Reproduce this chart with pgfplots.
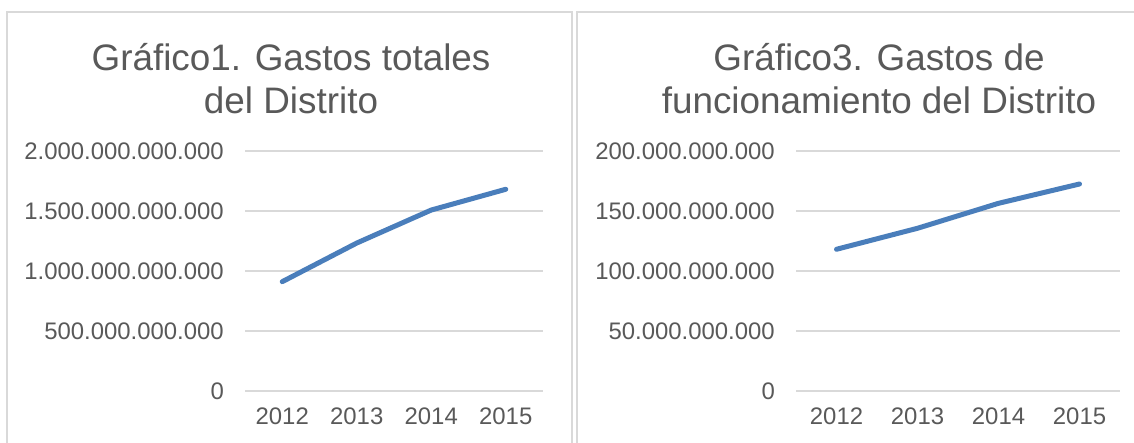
\documentclass[border=0pt]{standalone}
\usepackage{pgfplots}
\pgfplotsset{compat=1.18}
\usepackage{fontspec}
\setmainfont{Liberation Sans}
\definecolor{txt}{HTML}{595959}
\definecolor{grd}{HTML}{D9D9D9}
\definecolor{frm}{HTML}{D9D9D9}
\definecolor{ser}{HTML}{4A7EBB}
\pgfplotsset{
  mystyle/.style={
    scale only axis,
    anchor=south west,
    xmin=-0.5, xmax=3.5,
    ymin=0,
    height=240bp,
    xtick={0,1,2,3},
    xticklabels={2012,2013,2014,2015},
    scaled y ticks=false,
    axis line style={draw=none},
    major tick length=0pt,
    tick style={draw=none},
    ymajorgrids,
    grid style={color=grd, line width=1.6bp},
    xticklabel style={font=\fontsize{24}{29}\selectfont, color=txt, anchor=north, inner sep=0pt, yshift=-17bp},
    yticklabel style={font=\fontsize{24}{29}\selectfont, color=txt, anchor=east, inner sep=0pt, xshift=-21bp},
    clip=false,
  }
}
\begin{document}
\begin{tikzpicture}
\path[use as bounding box] (0bp,0bp) rectangle (1134bp,443bp);
\begin{scope}
\clip (0bp,0bp) rectangle (1134bp,443bp);
\draw[frm, line width=1.6bp] (7bp,-20bp) |- (572bp,431bp) -- (572bp,-20bp);
\draw[frm, line width=1.6bp] (577bp,-20bp) |- (1200bp,431bp);
\end{scope}

\begin{axis}[mystyle,
  at={(245bp,52bp)}, width=298bp,
  ymax=2000000000000,
  ytick={0,500000000000,1000000000000,1500000000000,2000000000000},
  yticklabels={0,500.000.000.000,1.000.000.000.000,1.500.000.000.000,2.000.000.000.000},
]
\addplot[ser, line width=5bp, line cap=round, line join=round] coordinates {
(0,911000000000) (1,1233000000000) (2,1508000000000) (3,1681000000000)
};
\end{axis}

\begin{axis}[mystyle,
  at={(796bp,52bp)}, width=324bp,
  ymax=200000000000,
  ytick={0,50000000000,100000000000,150000000000,200000000000},
  yticklabels={0,50.000.000.000,100.000.000.000,150.000.000.000,200.000.000.000},
]
\addplot[ser, line width=5bp, line cap=round, line join=round] coordinates {
(0,118100000000) (1,135600000000) (2,156400000000) (3,172500000000)
};
\end{axis}

\node[txt, font=\fontsize{37}{44}\selectfont, anchor=base, inner sep=0pt] at (291bp,372.5bp) {Gráfico1. Gastos totales};
\node[txt, font=\fontsize{37}{44}\selectfont, anchor=base, inner sep=0pt] at (291bp,329.5bp) {del Distrito};
\node[txt, font=\fontsize{37}{44}\selectfont, anchor=base, inner sep=0pt] at (879bp,372.5bp) {Gráfico3. Gastos de};
\node[txt, font=\fontsize{37}{44}\selectfont, anchor=base, inner sep=0pt] at (879bp,329.5bp) {funcionamiento del Distrito};
\end{tikzpicture}
\end{document}
